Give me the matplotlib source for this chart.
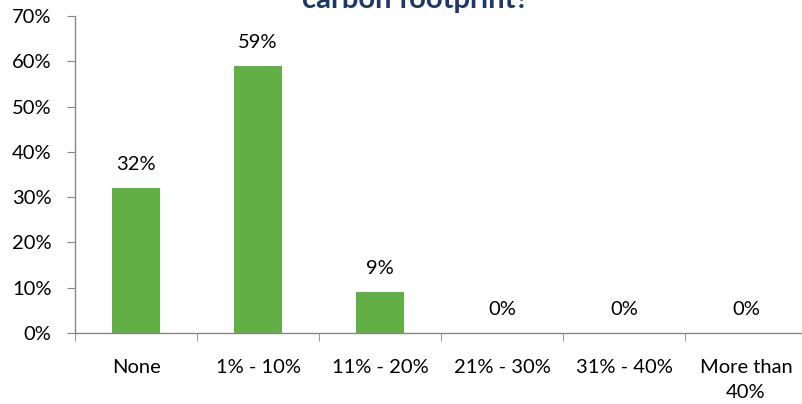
import matplotlib.pyplot as plt
from matplotlib.ticker import PercentFormatter

# survey answers
categories = ["None", "1% - 10%", "11% - 20%", "21% - 30%", "31% - 40%", "More than\n40%"]
shares = [32, 59, 9, 0, 0, 0]
yticks = [0, 10, 20, 30, 40, 50, 60, 70]

plt.rcParams['font.family'] = ['Lato', 'DejaVu Sans']

fig = plt.figure(figsize=(8.02, 4.04), dpi=100)
ax = fig.add_axes([75 / 802, 71 / 404, 732 / 802, 317 / 404])

x = list(range(len(categories)))
bars = ax.bar(x, shares, width=0.4, color="#62B045", zorder=2)

for xi, v in zip(x, shares):
    ax.annotate(f"{v}%", (xi, v), xytext=(0, 11), textcoords="offset points",
                ha="center", va="bottom", fontsize=14.5, color="black")

ax.set_xlim(-0.5, len(categories) - 0.5)
ax.set_ylim(0, 70)
ax.set_yticks(yticks)
ax.yaxis.set_major_formatter(PercentFormatter(decimals=0))

ax.set_xticks(x)
ax.set_xticklabels(categories, fontsize=14.5, linespacing=1.55)
ax.set_xticks([i - 0.5 for i in range(len(categories) + 1)], minor=True)
ax.tick_params(axis="x", which="major", length=0, pad=19)
ax.tick_params(axis="x", which="minor", length=6, color="#868686", direction="out")
ax.tick_params(axis="y", length=6, color="#868686", labelsize=14.5, pad=11)

for side in ["top", "right"]:
    ax.spines[side].set_visible(False)
for side in ["left", "bottom"]:
    ax.spines[side].set_color("#868686")
    ax.spines[side].set_linewidth(1)

fig.text(415 / 802, 396 / 404, "carbon footprint?", ha="center", va="baseline",
         fontsize=21, fontweight="bold", color="#1F3864")

fig.savefig("out.png", dpi=100)
